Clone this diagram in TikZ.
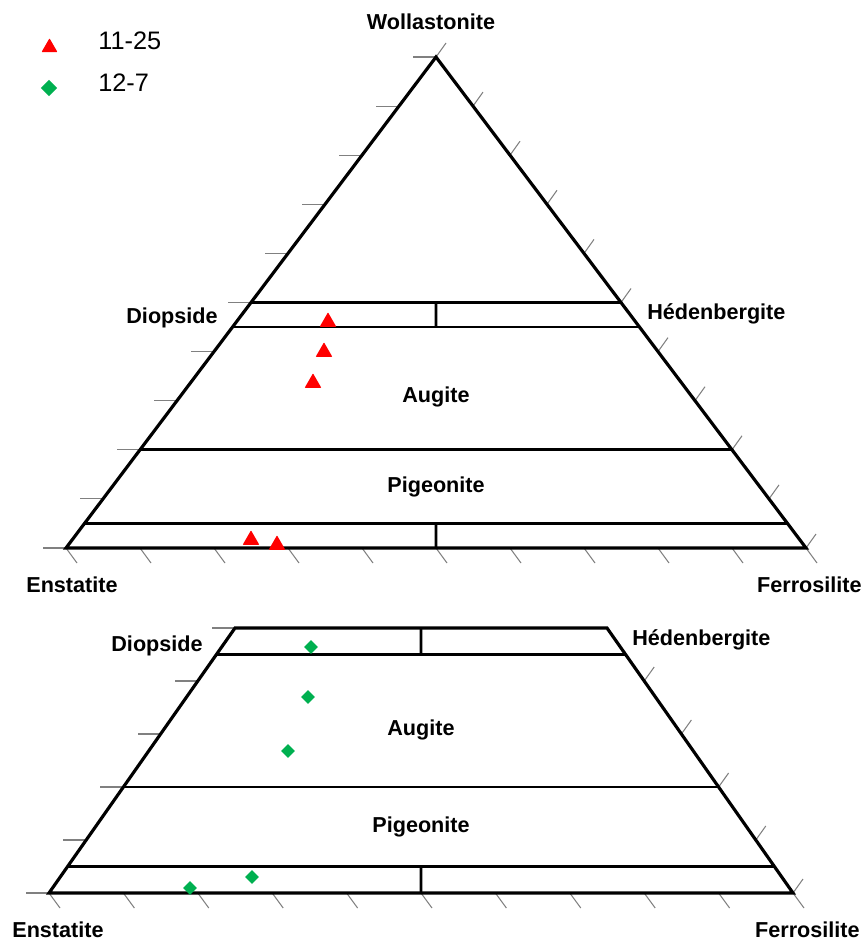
\documentclass[tikz,border=0pt]{standalone}
\usepackage{fontspec}
\setmainfont{Liberation Sans}
\usetikzlibrary{positioning,calc,shapes.geometric}
\definecolor{ptred}{HTML}{FF0000}
\definecolor{ptgreen}{HTML}{00B050}
\definecolor{tickgray}{HTML}{808080}

\begin{document}
\begin{tikzpicture}[x=0.02cm, y=-0.02cm,
  edge/.style={line width=1.8pt, line join=miter},
  divider/.style={line width=1.6pt},
  tickmark/.style={tickgray, line width=0.6pt},
  lbl/.style={font=\bfseries\fontsize{12.3}{14}\selectfont, inner sep=0pt},
  legtext/.style={font=\fontsize{14.4}{17}\selectfont, inner sep=0pt, anchor=base west},
  tri/.style={regular polygon, regular polygon sides=3, fill=ptred, inner sep=0pt,
              minimum size=11pt, rounded corners=0.4pt},
  dia/.style={diamond, fill=ptgreen, inner sep=0pt, minimum size=8pt}
]
  \useasboundingbox (0,0) rectangle (865,940);

  % upper diagram: full triangle
  \coordinate (wo) at (436,57);
  \coordinate (en) at (66,548);
  \coordinate (fs) at (806,548);
  \foreach \w/\f in {50/0.5, 45/0.55, 20/0.8, 5/0.95} {
    \coordinate (l\w) at ($(wo)!\f!(en)$);
    \coordinate (r\w) at ($(wo)!\f!(fs)$);
  }
  \foreach \i [evaluate=\i as \f using \i/10] in {0,...,10} {
    \draw[tickmark] ($(wo)!\f!(en)$) -- ++(-23,0);
    \draw[tickmark] ($(wo)!\f!(fs)$) -- ++(10,-14);
    \draw[tickmark] ($(en)!\f!(fs)$) -- ++(11,15);
  }
  \draw[edge] (wo) -- (en) -- (fs) -- cycle;
  \draw[divider] (l50) -- (r50);
  \draw[divider] (l45) -- (r45);
  \draw[divider] (l20) -- (r20);
  \draw[divider] (l5) -- (r5);
  \draw[divider] ($(l50)!0.5!(r50)$) -- ($(l45)!0.5!(r45)$);
  \draw[divider] ($(l5)!0.5!(r5)$) -- ($(en)!0.5!(fs)$);

  \node[lbl, anchor=base] (wolab) at (431,29) {Wollastonite};
  \node[lbl, anchor=base east] (dilab) at (218,323) {Diopside};
  \node[lbl, anchor=base west] (hdlab) at (647,319) {Hédenbergite};
  \node[lbl, anchor=base] (aulab) at (436,402) {Augite};
  \node[lbl, anchor=base] (pilab) at (436,492) {Pigeonite};
  \node[lbl, anchor=base west] (enlab) at (26,592) {Enstatite};
  \node[lbl, anchor=base east] (fslab) at (862,592) {Ferrosilite};

  \foreach \x/\y [count=\k] in {328/322, 324/352, 313/383, 251/540, 277/545}
    \node[tri] (ptA\k) at (\x,\y) {};

  % lower diagram: trapezoid (Wo < 50)
  \coordinate (wob) at (421,363);
  \coordinate (enb) at (49,893);
  \coordinate (fsb) at (793,893);
  \foreach \w/\f in {50/0.5, 45/0.55, 20/0.8, 5/0.95} {
    \coordinate (bl\w) at ($(wob)!\f!(enb)$);
    \coordinate (br\w) at ($(wob)!\f!(fsb)$);
  }
  \foreach \i [evaluate=\i as \f using \i/10] in {5,...,10}
    \draw[tickmark] ($(wob)!\f!(enb)$) -- ++(-23,0);
  \foreach \i [evaluate=\i as \f using \i/10] in {6,...,10}
    \draw[tickmark] ($(wob)!\f!(fsb)$) -- ++(10,-14);
  \foreach \i [evaluate=\i as \f using \i/10] in {0,...,10}
    \draw[tickmark] ($(enb)!\f!(fsb)$) -- ++(11,15);
  \draw[edge] (bl50) -- (enb) -- (fsb) -- (br50) -- cycle;
  \draw[divider] (bl45) -- (br45);
  \draw[divider] (bl20) -- (br20);
  \draw[divider] (bl5) -- (br5);
  \draw[divider] ($(bl50)!0.5!(br50)$) -- ($(bl45)!0.5!(br45)$);
  \draw[divider] ($(bl5)!0.5!(br5)$) -- ($(enb)!0.5!(fsb)$);

  \node[lbl, anchor=base east] (dilabb) at (203,651) {Diopside};
  \node[lbl, anchor=base west] (hdlabb) at (632,645) {Hédenbergite};
  \node[lbl, anchor=base] (aulabb) at (421,735) {Augite};
  \node[lbl, anchor=base] (pilabb) at (421,832) {Pigeonite};
  \node[lbl, anchor=base west] (enlabb) at (12,937) {Enstatite};
  \node[lbl, anchor=base east] (fslabb) at (860,937) {Ferrosilite};

  \foreach \x/\y [count=\k] in {311/647, 308/697, 288/751, 252/877, 190/888}
    \node[dia] (ptB\k) at (\x,\y) {};

  % legend
  \node[tri, minimum size=10.5pt] (legtri) at (49.5,47.5) {};
  \node[legtext] (legA) at (98,49) {11-25};
  \node[dia, minimum size=9.5pt] (legdia) at (49,88) {};
  \node[legtext] (legB) at (98,91) {12-7};
\end{tikzpicture}
\end{document}
